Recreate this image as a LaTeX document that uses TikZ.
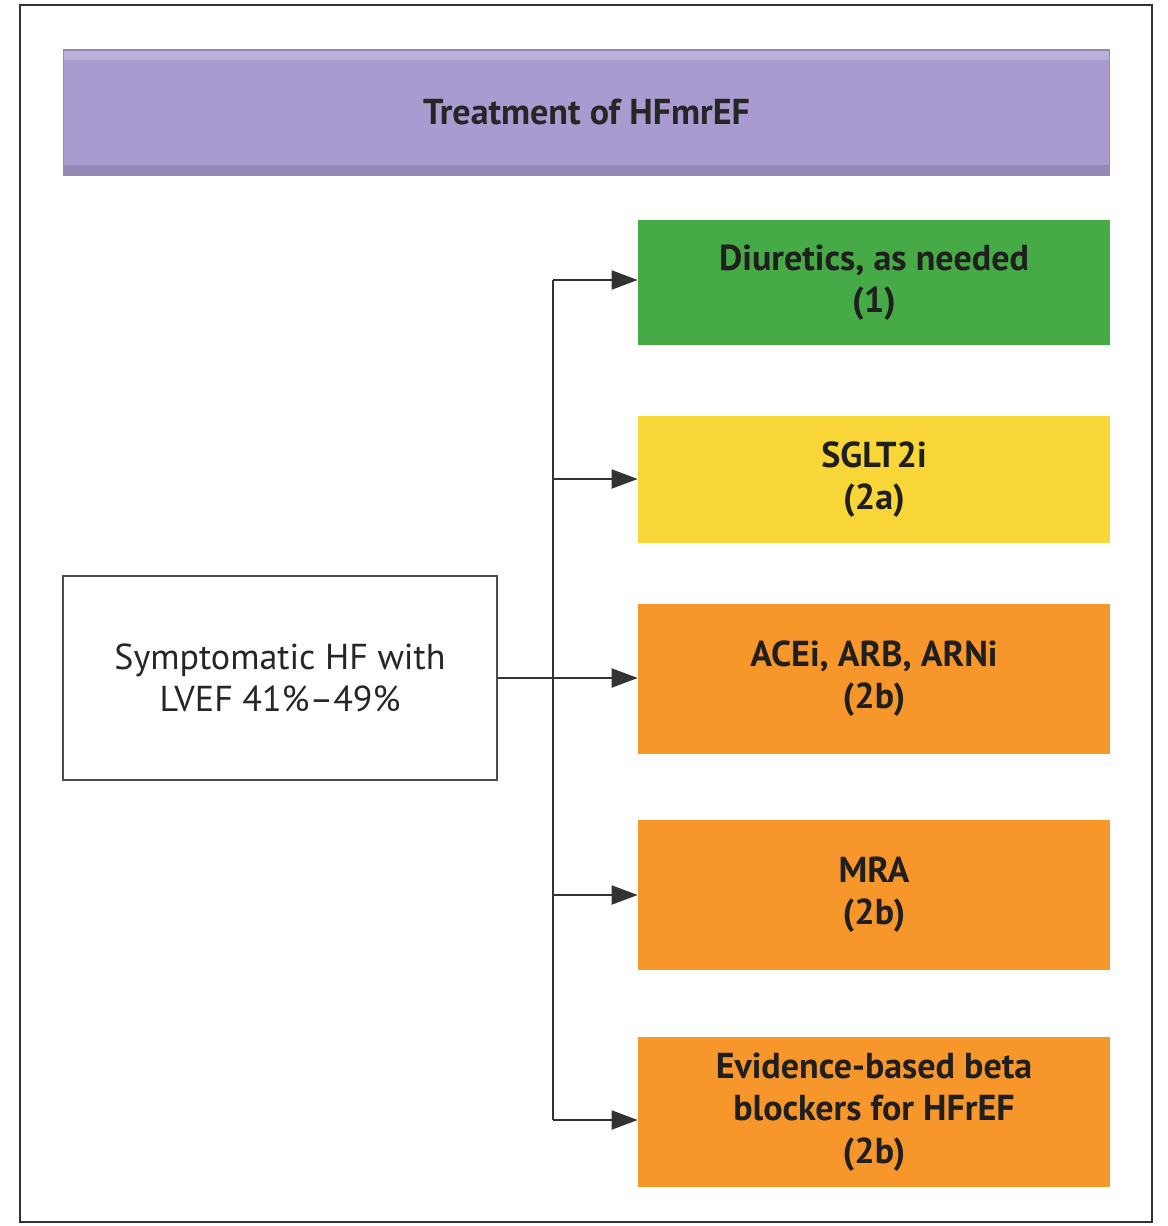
\documentclass[tikz,border=0pt]{standalone}
\usepackage{fontspec}
\setmainfont{PT Sans}
\usetikzlibrary{arrows.meta}

\definecolor{hfpurple}{HTML}{A99BD0}
\definecolor{hfgreen}{HTML}{46AA46}
\definecolor{hfyellow}{HTML}{F8D637}
\definecolor{hforange}{HTML}{F7962B}

\tikzset{
  classbox/.style={minimum width=9.44cm, align=center, inner sep=0pt,
    font=\fontsize{20.5}{24}\selectfont\bfseries, text=black!88},
  link/.style={draw=black!80, line width=1.1pt},
  tip/.style={-{Triangle[length=0.52cm,width=0.38cm]}}
}

\begin{document}
\begin{tikzpicture}[x=0.02cm,y=-0.02cm]
  \useasboundingbox (0,0) rectangle (1167,1226);
  \draw[black!80, line width=1.5pt] (20,5) rectangle (1152,1222);

  % title bar
  \node[fill=hfpurple, draw=hfpurple!88!black, line width=0.6pt,
        minimum width=20.94cm, minimum height=2.5cm,
        font=\fontsize{20.5}{24}\selectfont\bfseries, text=black!85,
        path picture={
          \fill[white, opacity=0.2] (path picture bounding box.north west)
            rectangle ([yshift=-0.2cm]path picture bounding box.north east);
          \fill[black, opacity=0.12] (path picture bounding box.south west)
            rectangle ([yshift=0.2cm]path picture bounding box.south east);
        }]
        (title) at (586.5,112.5) {Treatment of HFmrEF};

  % patient group
  \node[draw=black!70, line width=1.1pt, minimum width=8.68cm, minimum height=4.08cm,
        align=center, font=\fontsize{20.5}{24}\selectfont, text=black!85]
        (hf) at (280,678) {Symptomatic HF with\\LVEF 41\%–49\%};

  % treatments
  \node[classbox, fill=hfgreen, minimum height=2.5cm] (diur) at (874,282.5)
        {Diuretics, as needed\\(1)};
  \node[classbox, fill=hfyellow, minimum height=2.54cm] (sglt) at (874,479.5)
        {SGLT2i\\(2a)};
  \node[classbox, fill=hforange, minimum height=3cm] (acei) at (874,679)
        {ACEi, ARB, ARNi\\(2b)};
  \node[classbox, fill=hforange, minimum height=3cm] (mra) at (874,895)
        {MRA\\(2b)};
  \node[classbox, fill=hforange, minimum height=3cm] (bb) at (874,1112)
        {Evidence-based beta\\blockers for HFrEF\\(2b)};

  % branching lines
  \coordinate (t1) at (553,280);
  \coordinate (t2) at (553,479);
  \coordinate (t4) at (553,895);
  \coordinate (t5) at (553,1120);

  \draw[link] (t1) -- (t5);
  \draw[link, tip] (hf.east) -- (hf.east -| acei.west);
  \draw[link, tip] (t1) -- (t1 -| diur.west);
  \draw[link, tip] (t2) -- (t2 -| sglt.west);
  \draw[link, tip] (t4) -- (t4 -| mra.west);
  \draw[link, tip] (t5) -- (t5 -| bb.west);
\end{tikzpicture}
\end{document}
